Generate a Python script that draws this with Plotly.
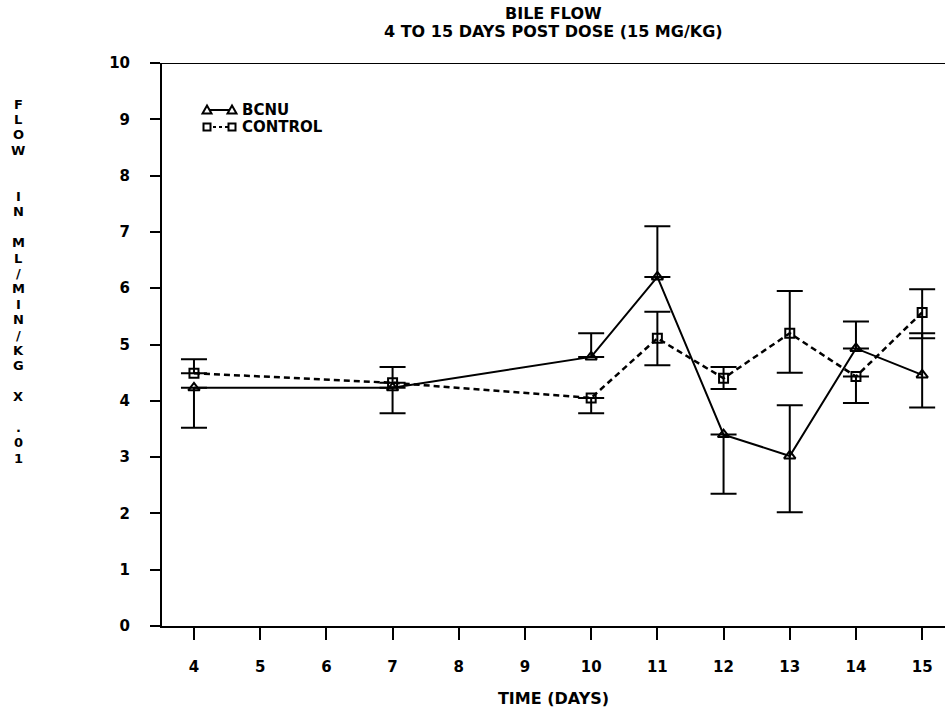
import plotly.graph_objects as go

# Bile flow, mL/min/kg x .01, by day after a 15 mg/kg dose
days = [4, 7, 10, 11, 12, 13, 14, 15]

bcnu = [4.23, 4.23, 4.78, 6.2, 3.4, 3.02, 4.93, 4.46]
bcnu_err_up = [0, 0, 0.42, 0.9, 0, 0.9, 0.48, 0.74]
bcnu_err_down = [0.71, 0.45, 0, 0, 1.05, 1.0, 0, 0.58]

control = [4.49, 4.32, 4.05, 5.11, 4.4, 5.2, 4.43, 5.57]
control_err_up = [0.25, 0.28, 0, 0.47, 0.2, 0.75, 0, 0.41]
control_err_down = [0, 0, 0.27, 0.48, 0.19, 0.7, 0.47, 0.46]

x_ticks = list(range(4, 16))
y_ticks = list(range(0, 11))

title_lines = ["BILE FLOW", "4 TO 15 DAYS POST DOSE (15 MG/KG)"]
series_names = ["BCNU", "CONTROL"]

FONT = "DejaVu Sans"
INK = "black"

W, H = 945, 712
M_L, M_R, M_T, M_B = 162, 0, 63, 86
PLOT_W = W - M_L - M_R
PLOT_H = H - M_T - M_B


def px(x):
    """page pixel x -> paper fraction"""
    return (x - M_L) / PLOT_W


def py(y):
    """page pixel y -> paper fraction"""
    return (H - M_B - y) / PLOT_H


def bold(size):
    return dict(family=FONT, size=size, color=INK, weight="bold")


fig = go.Figure()

fig.add_trace(go.Scatter(
    x=days, y=bcnu, name=series_names[0], mode="lines+markers", showlegend=False,
    line=dict(color=INK, width=2),
    marker=dict(symbol="triangle-up-open", size=10, color=INK, line=dict(width=2, color=INK)),
    error_y=dict(type="data", symmetric=False, array=bcnu_err_up, arrayminus=bcnu_err_down,
                 color=INK, thickness=2, width=13),
))

fig.add_trace(go.Scatter(
    x=days, y=control, name=series_names[1], mode="lines+markers", showlegend=False,
    line=dict(color=INK, width=2.5, dash="6px,4px"),
    marker=dict(symbol="square-open", size=9, color=INK, line=dict(width=2, color=INK)),
    error_y=dict(type="data", symmetric=False, array=control_err_up, arrayminus=control_err_down,
                 color=INK, thickness=2, width=13),
))

# top border of the frame
fig.add_shape(type="line", xref="paper", yref="y", x0=0, x1=1, y0=10, y1=10,
              line=dict(color=INK, width=2))

# key: symbol at both ends of a short line sample, then the series name
key_x0, key_x1, key_text_x = 207, 232, 240
key_rows = [110, 127]
for name, row_y, dash, sym in zip(series_names, key_rows, ["solid", "3px,3px"], ["tri", "sq"]):
    fig.add_shape(type="line", xref="paper", yref="paper",
                  x0=px(key_x0), x1=px(key_x1), y0=py(row_y), y1=py(row_y),
                  line=dict(color=INK, width=2, dash=dash))
    for cx in (key_x0, key_x1):
        if sym == "tri":
            path = (f"M {px(cx - 4.5)},{py(row_y + 3.5)} L {px(cx + 4.5)},{py(row_y + 3.5)} "
                    f"L {px(cx)},{py(row_y - 4.5)} Z")
        else:
            path = (f"M {px(cx - 3.5)},{py(row_y + 3.5)} L {px(cx + 3.5)},{py(row_y + 3.5)} "
                    f"L {px(cx + 3.5)},{py(row_y - 3.5)} L {px(cx - 3.5)},{py(row_y - 3.5)} Z")
        fig.add_shape(type="path", xref="paper", yref="paper", path=path,
                      line=dict(color=INK, width=2), fillcolor="white")
    fig.add_annotation(text=name, xref="paper", yref="paper", x=px(key_text_x), y=py(row_y),
                       xanchor="left", yanchor="middle", showarrow=False, font=bold(15))

# two-line title
for text, row_y in zip(title_lines, [14, 31]):
    fig.add_annotation(text=text, xref="paper", yref="paper", x=px(553), y=py(row_y),
                       xanchor="center", yanchor="middle", showarrow=False, font=bold(16))

# vertical y-axis label, one character per row
ylabel_rows = ["F", "L", "O", "W", "", "", "I", "N", "", "M", "L", "/", "M", "I", "N",
               "/", "K", "G", "", "X", "", ".", "0", "1"]
row_top_px, row_step_px = 104, 15.4
for i, ch in enumerate(ylabel_rows):
    if not ch:
        continue
    fig.add_annotation(text=ch, xref="paper", yref="paper",
                       x=px(18), y=py(row_top_px + i * row_step_px),
                       xanchor="center", yanchor="middle", showarrow=False,
                       borderpad=0, font=bold(13))

fig.update_layout(
    width=W, height=H,
    margin=dict(l=M_L, r=M_R, t=M_T, b=M_B),
    paper_bgcolor="white", plot_bgcolor="white",
    font=bold(15),
    showlegend=False,
    xaxis=dict(range=[3.517, 15.345], tickvals=x_ticks, ticktext=[str(v) for v in x_ticks],
               showgrid=False, zeroline=False, showline=True, linecolor=INK, linewidth=2,
               ticks="outside", ticklen=12, tickwidth=2, tickcolor=INK,
               ticklabelstandoff=14, tickfont=bold(15),
               title=dict(text="TIME (DAYS)", standoff=18, font=bold(16))),
    yaxis=dict(range=[0, 10], tickvals=y_ticks, ticktext=[str(v) for v in y_ticks],
               showgrid=False, zeroline=False, showline=True, linecolor=INK, linewidth=2,
               ticks="outside", ticklen=10, tickwidth=2, tickcolor=INK,
               ticklabelstandoff=17, tickfont=bold(15)),
)

fig.write_html("out.html")
